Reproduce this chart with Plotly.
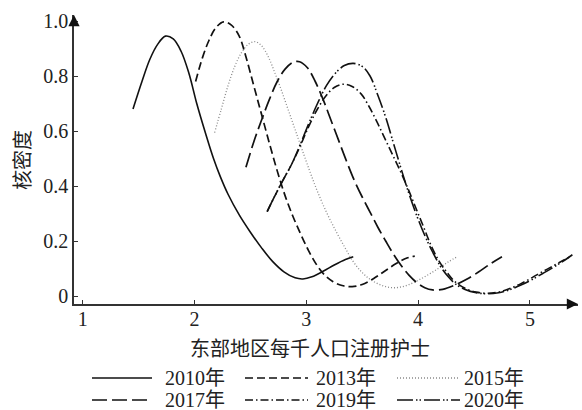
import plotly.graph_objects as go

# Kernel density curves of registered nurses per 1000 population (eastern region)
years = ["2010年", "2013年", "2015年", "2017年", "2019年", "2020年"]

x_2010 = [1.45, 1.53, 1.60, 1.67, 1.74, 1.81, 1.88, 1.95, 2.02, 2.10, 2.17, 2.23, 2.30,
          2.40, 2.50, 2.60, 2.70, 2.80, 2.90, 2.97, 3.05, 3.15, 3.25, 3.35, 3.42]
y_2010 = [0.68, 0.78, 0.86, 0.915, 0.945, 0.935, 0.89, 0.81, 0.70, 0.59, 0.50, 0.435, 0.37,
          0.295, 0.232, 0.175, 0.125, 0.088, 0.066, 0.062, 0.070, 0.090, 0.113, 0.133, 0.143]

x_2013 = [2.01, 2.07, 2.13, 2.19, 2.26, 2.33, 2.40, 2.46, 2.53, 2.60, 2.67, 2.74, 2.81, 2.88,
          2.95, 3.02, 3.09, 3.16, 3.24, 3.32, 3.41, 3.50, 3.60, 3.70, 3.80, 3.90, 3.97]
y_2013 = [0.78, 0.865, 0.93, 0.975, 0.997, 0.985, 0.945, 0.87, 0.765, 0.66, 0.555, 0.455, 0.365,
          0.29, 0.225, 0.165, 0.115, 0.078, 0.052, 0.038, 0.034, 0.042, 0.063, 0.09, 0.117,
          0.138, 0.145]

x_2015 = [2.18, 2.24, 2.30, 2.36, 2.42, 2.48, 2.54, 2.60, 2.66, 2.72, 2.78, 2.84, 2.90, 2.96,
          3.03, 3.10, 3.18, 3.26, 3.34, 3.42, 3.50, 3.58, 3.68, 3.78, 3.88, 3.98, 4.08, 4.18,
          4.27, 4.35]
y_2015 = [0.594, 0.68, 0.765, 0.835, 0.885, 0.915, 0.925, 0.91, 0.87, 0.81, 0.745, 0.675,
          0.605, 0.535, 0.455, 0.38, 0.305, 0.24, 0.18, 0.125, 0.085, 0.058, 0.038, 0.03,
          0.036, 0.053, 0.075, 0.10, 0.124, 0.143]

x_2017 = [2.46, 2.53, 2.60, 2.67, 2.74, 2.81, 2.88, 2.94, 3.01, 3.08, 3.15, 3.22, 3.29, 3.36,
          3.43, 3.50, 3.57, 3.64, 3.71, 3.78, 3.85, 3.92, 3.99, 4.06, 4.13, 4.22, 4.32, 4.43,
          4.54, 4.65, 4.75]
y_2017 = [0.468, 0.56, 0.64, 0.715, 0.78, 0.825, 0.85, 0.852, 0.83, 0.78, 0.715, 0.64, 0.565,
          0.49, 0.42, 0.36, 0.305, 0.25, 0.20, 0.152, 0.11, 0.075, 0.048, 0.03, 0.022, 0.024,
          0.038, 0.06, 0.087, 0.118, 0.143]

x_2019 = [2.65, 2.72, 2.79, 2.87, 2.94, 3.02, 3.10, 3.18, 3.25, 3.33, 3.41, 3.49, 3.56, 3.63,
          3.70, 3.77, 3.84, 3.91, 3.98, 4.05, 4.12, 4.19, 4.26, 4.33, 4.42, 4.52, 4.62, 4.72,
          4.82, 4.92, 5.02, 5.12, 5.22, 5.30, 5.36]
y_2019 = [0.307, 0.365, 0.42, 0.48, 0.54, 0.615, 0.68, 0.73, 0.758, 0.77, 0.762, 0.735, 0.69,
          0.635, 0.575, 0.515, 0.455, 0.39, 0.32, 0.25, 0.18, 0.125, 0.085, 0.052, 0.028,
          0.014, 0.01, 0.014, 0.027, 0.045, 0.067, 0.09, 0.112, 0.13, 0.143]

x_2020 = [2.65, 2.72, 2.79, 2.87, 2.94, 3.02, 3.10, 3.18, 3.26, 3.34, 3.42, 3.50, 3.57, 3.64,
          3.71, 3.78, 3.85, 3.92, 3.99, 4.06, 4.13, 4.20, 4.27, 4.34, 4.42, 4.52, 4.62, 4.72,
          4.82, 4.92, 5.02, 5.12, 5.22, 5.31, 5.38]
y_2020 = [0.307, 0.365, 0.42, 0.48, 0.545, 0.625, 0.70, 0.765, 0.81, 0.838, 0.846, 0.835,
          0.80, 0.73, 0.65, 0.555, 0.46, 0.37, 0.29, 0.22, 0.16, 0.108, 0.07, 0.042, 0.024,
          0.012, 0.008, 0.012, 0.023, 0.04, 0.06, 0.083, 0.107, 0.13, 0.15]

x_ticks = [1, 2, 3, 4, 5]
x_tick_text = ["1", "2", "3", "4", "5"]
y_ticks = [0, 0.2, 0.4, 0.6, 0.8, 1.0]
y_tick_text = ["0", "0.2", "0.4", "0.6", "0.8", "1.0"]

xs = [x_2010, x_2013, x_2015, x_2017, x_2019, x_2020]
ys = [y_2010, y_2013, y_2015, y_2017, y_2019, y_2020]

# line styles per year
dashes = ["solid", "8px,4px", "1px,2px", "15px,5px", "8px,3px,1.5px,3px",
          "16px,3px,1.5px,2px,1.5px,3px"]
colors = ["#111111", "#111111", "#8a8a8a", "#111111", "#111111", "#111111"]
widths = [1.6, 1.7, 1.3, 1.7, 1.6, 1.6]

W, H = 582, 410
L, R, T, B = 74, 578, 15, 304

SERIF = "Liberation Serif, Noto Sans CJK SC, serif"
CJK = "Noto Sans CJK SC, Liberation Serif, serif"


def px_x(p):
    return (p - L) / (R - L)


def px_y(p):
    return (B - p) / (B - T)


fig = go.Figure()
for x, y, d, c, w, n in zip(xs, ys, dashes, colors, widths, years):
    fig.add_trace(go.Scatter(
        x=x, y=y, mode="lines", name=n, showlegend=False,
        line=dict(color=c, width=w, dash=d, shape="spline", smoothing=1.0),
    ))

axis_color = "#333333"
fig.update_layout(
    width=W, height=H,
    margin=dict(l=L, r=W - R, t=T, b=H - B, pad=0),
    paper_bgcolor="white", plot_bgcolor="white",
    font=dict(family=SERIF, size=20, color="#222222"),
    xaxis=dict(
        range=[1 + (L - 82.7) / 111.8, 1 + (R - 82.7) / 111.8],
        tickvals=x_ticks, ticktext=x_tick_text,
        ticks="inside", ticklen=4, tickwidth=1.2, tickcolor=axis_color,
        showline=True, linecolor=axis_color, linewidth=1.6,
        showgrid=False, zeroline=False, ticklabelstandoff=-4,
        tickfont=dict(family=SERIF, size=20, color="#222222"),
    ),
    yaxis=dict(
        range=[(296 - B) / 275, (296 - T) / 275],
        tickvals=y_ticks, ticktext=y_tick_text,
        ticks="inside", ticklen=4, tickwidth=1.2, tickcolor=axis_color,
        showline=True, linecolor=axis_color, linewidth=1.6,
        showgrid=False, zeroline=False,
        tickfont=dict(family=SERIF, size=20, color="#222222"),
    ),
)

annotations = [
    # axis arrowheads
    dict(x=1, y=0, xref="paper", yref="paper", ax=-12, ay=0, axref="pixel", ayref="pixel",
         showarrow=True, arrowhead=2, arrowsize=1.4, arrowwidth=1.6, arrowcolor="#111111", text=""),
    dict(x=0, y=1, xref="paper", yref="paper", ax=0, ay=12, axref="pixel", ayref="pixel",
         showarrow=True, arrowhead=2, arrowsize=1.4, arrowwidth=1.6, arrowcolor="#111111", text=""),
    # axis titles
    dict(x=px_x(310), y=px_y(347), xref="paper", yref="paper", showarrow=False,
         text="东部地区每千人口注册护士", font=dict(family=CJK, size=20, color="#222222"),
         xanchor="center", yanchor="middle"),
    dict(x=px_x(21), y=px_y(160), xref="paper", yref="paper", showarrow=False,
         text="核密度", textangle=-90, font=dict(family=CJK, size=20, color="#222222"),
         xanchor="center", yanchor="middle"),
]

# legend: two rows of three entries below the axis title
sample_spans = [(92, 152), (245, 308), (397, 460)]
text_left = [163, 314, 462]
rows = [378, 400]
shapes = []
for i, (n, d, c, w) in enumerate(zip(years, dashes, colors, widths)):
    r, col = divmod(i, 3)
    x0, x1 = sample_spans[col]
    yy = px_y(rows[r])
    shapes.append(dict(type="line", xref="paper", yref="paper",
                       x0=px_x(x0), x1=px_x(x1), y0=yy, y1=yy,
                       line=dict(color=c, width=w, dash=d)))
    annotations.append(dict(x=px_x(text_left[col]), y=yy, xref="paper", yref="paper",
                            showarrow=False, text=n, xanchor="left", yanchor="middle",
                            font=dict(family=SERIF, size=20, color="#222222")))

fig.update_layout(annotations=annotations, shapes=shapes)
fig.write_html("out.html")
